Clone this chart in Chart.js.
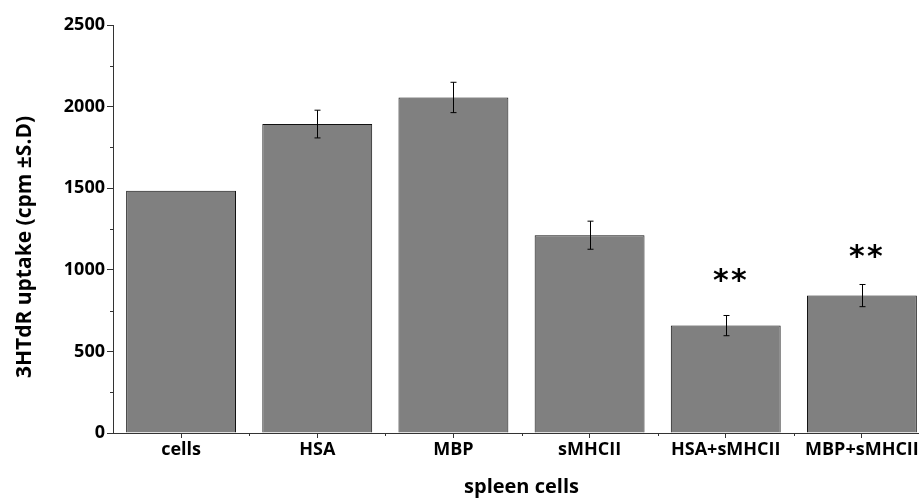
<!DOCTYPE html>
<html>
<head>
<meta charset="utf-8">
<script src="https://cdn.jsdelivr.net/npm/chart.js@4"></script>
<style>
  html, body { margin: 0; padding: 0; background: #fff; overflow: hidden; }
  #wrap { width: 940px; height: 503px; }
</style>
</head>
<body>
<div id="wrap"><canvas id="bar-chart" width="940" height="503"></canvas></div>
<script>
var categories = ["cells", "HSA", "MBP", "sMHCII", "HSA+sMHCII", "MBP+sMHCII"];
var uptake = [1484, 1893, 2056, 1212, 658, 842];
var uptakeSD = [0, 85, 93, 86, 62, 68];
var starLevel = [null, null, null, null, 972, 1119];
var yTicks = [0, 500, 1000, 1500, 2000, 2500];
var yTitle = "3HTdR uptake (cpm ±S.D)";

var FONT = "'Open Sans', sans-serif";

// error bars, significance stars, minor ticks and the y title
var extrasPlugin = {
  id: "extras",
  afterDatasetsDraw: function (chart) {
    var ctx = chart.ctx;
    var x = chart.scales.x;
    var y = chart.scales.y;
    ctx.save();
    ctx.strokeStyle = "#000";
    ctx.lineWidth = 1;
    uptake.forEach(function (v, i) {
      if (!uptakeSD[i]) return;
      var px = Math.round(x.getPixelForValue(i)) + 0.5;
      var top = y.getPixelForValue(v + uptakeSD[i]);
      var bot = y.getPixelForValue(v - uptakeSD[i]);
      ctx.beginPath();
      ctx.moveTo(px, top);
      ctx.lineTo(px, bot);
      ctx.moveTo(px - 3, top);
      ctx.lineTo(px + 3, top);
      ctx.moveTo(px - 3, bot);
      ctx.lineTo(px + 3, bot);
      ctx.stroke();
    });
    ctx.fillStyle = "#000";
    ctx.font = "bold 30px 'DejaVu Sans'";
    ctx.textAlign = "center";
    ctx.textBaseline = "middle";
    starLevel.forEach(function (s, i) {
      if (s === null) return;
      var cx = x.getPixelForValue(i) + 4;
      var cy = y.getPixelForValue(s) + 8;
      ctx.fillText("*", cx - 9, cy);
      ctx.fillText("*", cx + 9, cy);
    });
    // minor ticks
    ctx.strokeStyle = "#333";
    var left = chart.chartArea.left;
    for (var m = 250; m < 2500; m += 500) {
      var py = Math.round(y.getPixelForValue(m)) + 0.5;
      ctx.beginPath();
      ctx.moveTo(left - 3, py);
      ctx.lineTo(left, py);
      ctx.stroke();
    }
    var bottom = chart.chartArea.bottom;
    for (var k = 1; k < categories.length; k++) {
      var bx = Math.round((x.getPixelForValue(k - 1) + x.getPixelForValue(k)) / 2) + 0.5;
      ctx.beginPath();
      ctx.moveTo(bx, bottom);
      ctx.lineTo(bx, bottom + 3);
      ctx.stroke();
    }
    // y axis title
    ctx.translate(25, 247);
    ctx.rotate(-Math.PI / 2);
    ctx.font = "bold 21px " + FONT;
    ctx.fillText(yTitle, 0, 0);
    ctx.restore();
  }
};

var ctx = document.getElementById("bar-chart").getContext("2d");
var barChart = new Chart(ctx, {
  type: "bar",
  data: {
    labels: categories,
    datasets: [
      {
        data: uptake,
        backgroundColor: "#808080",
        borderColor: "#111",
        borderWidth: 1,
        barPercentage: 0.807,
        categoryPercentage: 1
      }
    ]
  },
  options: {
    responsive: false,
    animation: false,
    layout: { padding: { top: 25, right: 10, left: 0, bottom: 0 } },
    plugins: {
      legend: { display: false },
      tooltip: { enabled: false }
    },
    scales: {
      x: {
        offset: true,
        grid: {
          offset: false,
          drawOnChartArea: false,
          tickLength: 5,
          tickColor: "#333"
        },
        border: { color: "#333", width: 1 },
        ticks: {
          color: "#000",
          font: { family: FONT, weight: "bold", size: 18 },
          padding: 1,
          maxRotation: 0,
          autoSkip: false
        },
        title: {
          display: true,
          text: "spleen cells",
          color: "#000",
          font: { family: FONT, weight: "bold", size: 20 },
          padding: { top: 18 }
        },
        afterFit: function (scale) { scale.height = 70; }
      },
      y: {
        min: 0,
        max: 2500,
        afterBuildTicks: function (scale) {
          scale.ticks = yTicks.map(function (v) { return { value: v }; });
        },
        grid: {
          drawOnChartArea: false,
          tickLength: 6,
          tickColor: "#333"
        },
        border: { color: "#333", width: 1 },
        ticks: {
          color: "#000",
          font: { family: FONT, weight: "bold", size: 18 },
          padding: 2,
          callback: function (v) { return String(v); }
        },
        afterFit: function (scale) { scale.width = 113; }
      }
    }
  },
  plugins: [extrasPlugin]
});
</script>
</body>
</html>
